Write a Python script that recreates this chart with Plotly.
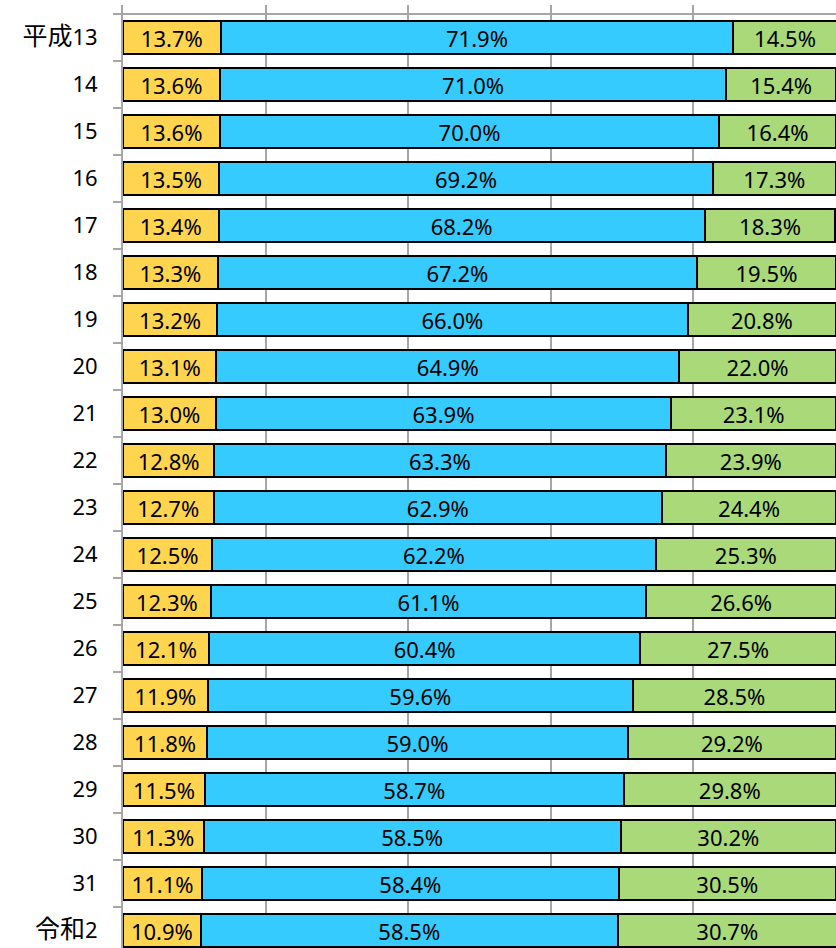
import plotly.graph_objects as go

categories = ["平成13", "14", "15", "16", "17", "18", "19", "20", "21", "22",
              "23", "24", "25", "26", "27", "28", "29", "30", "31", "令和2"]
yellow_vals = [13.7, 13.6, 13.6, 13.5, 13.4, 13.3, 13.2, 13.1, 13.0, 12.8,
               12.7, 12.5, 12.3, 12.1, 11.9, 11.8, 11.5, 11.3, 11.1, 10.9]
blue_vals = [71.9, 71.0, 70.0, 69.2, 68.2, 67.2, 66.0, 64.9, 63.9, 63.3,
             62.9, 62.2, 61.1, 60.4, 59.6, 59.0, 58.7, 58.5, 58.4, 58.5]
green_vals = [14.5, 15.4, 16.4, 17.3, 18.3, 19.5, 20.8, 22.0, 23.1, 23.9,
              24.4, 25.3, 26.6, 27.5, 28.5, 29.2, 29.8, 30.2, 30.5, 30.7]

FONT = "Noto Sans, Noto Sans CJK JP, sans-serif"
GRID = "#A6A6A6"


def fmt_label(s):
    out = ""
    for ch in s:
        if ord(ch) > 0x2000:
            out += '<span style="font-size:25px">' + ch + "</span>"
        else:
            out += ch
    return out


ticktext = [fmt_label(c) for c in categories]

fig = go.Figure()
for vals, color in [(yellow_vals, "#FFD54F"), (blue_vals, "#35CBFE"), (green_vals, "#A9D979")]:
    fig.add_trace(go.Bar(
        y=categories, x=vals, orientation="h",
        marker=dict(color=color, line=dict(color="black", width=2)),
        texttemplate="%{x:.1f}%", textposition="inside",
        insidetextanchor="middle", textangle=0,
        textfont=dict(family=FONT, size=22, color="black"),
        constraintext="none", hoverinfo="skip", showlegend=False,
    ))

fig.update_layout(
    width=836, height=948,
    margin=dict(l=123, r=0, t=5, b=0, autoexpand=False),
    barmode="stack", bargap=0.3,
    plot_bgcolor="white", paper_bgcolor="white",
    font=dict(family=FONT, size=22, color="black"),
    xaxis=dict(range=[0, 100], dtick=20, showgrid=True, gridcolor=GRID, gridwidth=2,
               showticklabels=False, zeroline=False, showline=False, fixedrange=True,
               automargin=False),
    yaxis=dict(type="category", range=[19.372, -0.6915], automargin=False,
               tickmode="array", tickvals=categories, ticktext=ticktext,
               tickson="boundaries", ticks="outside", ticklen=8, tickwidth=2, tickcolor=GRID,
               showline=True, linecolor=GRID, linewidth=2, showgrid=False,
               ticklabelstandoff=19, tickfont=dict(family=FONT, size=22, color="black")),
    shapes=[dict(type="line", xref="paper", yref="y", x0=0, x1=1, y0=-0.5, y1=-0.5,
                 line=dict(color=GRID, width=2), layer="below")],
)

fig.write_html("out.html", config={"displayModeBar": False},
               post_script="document.body.style.margin='0';document.body.style.overflow='hidden';")
